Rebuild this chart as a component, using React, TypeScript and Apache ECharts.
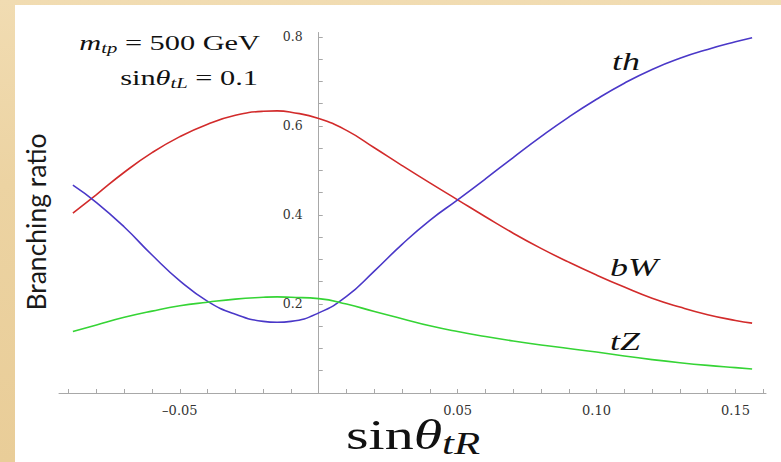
import React, { useEffect, useRef } from "react";
import * as echarts from "echarts";

// sinθ_tR sample positions
const xValues = [
  -0.0885, -0.08, -0.07, -0.06, -0.05, -0.04, -0.03, -0.02, -0.015, -0.01, 0, 0.01, 0.02, 0.03, 0.04, 0.05,
  0.06, 0.07, 0.08, 0.09, 0.1, 0.11, 0.12, 0.13, 0.14, 0.15, 0.156,
];
// Branching ratios
const bW = [
  0.404, 0.446, 0.496, 0.54, 0.576, 0.604, 0.624, 0.633, 0.634, 0.631, 0.617, 0.59, 0.551, 0.511, 0.472, 0.434,
  0.396, 0.359, 0.325, 0.294, 0.265, 0.238, 0.213, 0.193, 0.176, 0.163, 0.157,
];
const th = [
  0.467, 0.428, 0.373, 0.31, 0.252, 0.206, 0.177, 0.161, 0.159, 0.161, 0.18, 0.217, 0.274, 0.334, 0.388, 0.434,
  0.481, 0.529, 0.576, 0.62, 0.66, 0.696, 0.727, 0.752, 0.772, 0.789, 0.798,
];
const tZ = [
  0.138, 0.153, 0.17, 0.184, 0.196, 0.204, 0.211, 0.215, 0.216, 0.215, 0.212, 0.2, 0.183, 0.167, 0.151, 0.138,
  0.127, 0.117, 0.108, 0.1, 0.092, 0.083, 0.075, 0.068, 0.062, 0.057, 0.054,
];

const xTickValues = [
  -0.09, -0.08, -0.07, -0.06, -0.05, -0.04, -0.03, -0.02, -0.01, 0.01, 0.02, 0.03, 0.04, 0.05, 0.06, 0.07,
  0.08, 0.09, 0.1, 0.11, 0.12, 0.13, 0.14, 0.15, 0.16,
];
const xLabelValues = [-0.05, 0.05, 0.1, 0.15];
const yTickValues = [
  0.05, 0.1, 0.15, 0.2, 0.25, 0.3, 0.35, 0.4, 0.45, 0.5, 0.55, 0.6, 0.65, 0.7, 0.75, 0.8,
];
const yLabelValues = [0.2, 0.4, 0.6, 0.8];

const SERIF = "'Liberation Serif', 'DejaVu Serif', serif";
const TICKFONT = "'DejaVu Serif', serif";
const X_MIN = -0.0935;
const X_MAX = 0.161;
const GRID_LEFT = 44;
const GRID_RIGHT = 15;
const CHART_W = 766;
const STRETCH = 1.38;

export default function App() {
  const ref = useRef<HTMLDivElement>(null);

  useEffect(() => {
    if (!ref.current) return;
    const chart = echarts.init(ref.current, undefined, { renderer: "svg" });

    const mk = (vals: number[]) => xValues.map((x, i) => [x, vals[i]]);
    const lineSeries = (name: string, vals: number[], color: string) => ({
      name,
      type: "line",
      data: mk(vals),
      smooth: true,
      showSymbol: false,
      symbol: "none",
      lineStyle: { color, width: 1.6 },
      z: 3,
    });

    const plotW = CHART_W - GRID_LEFT - GRID_RIGHT;
    const zeroOffset = ((0 - X_MIN) / (X_MAX - X_MIN)) * plotW;

    const mathRich = (size: number, subSize: number, lh: number) => ({
      i: { fontFamily: SERIF, fontStyle: "italic", fontSize: size, lineHeight: lh },
      s: { fontFamily: SERIF, fontStyle: "italic", fontSize: subSize, lineHeight: subSize, verticalAlign: "bottom" },
      r: { fontFamily: SERIF, fontSize: size, lineHeight: lh },
    });

    chart.setOption({
      animation: false,
      backgroundColor: "#ffffff",
      grid: { left: GRID_LEFT, right: GRID_RIGHT, top: 27.5, bottom: 69 },
      xAxis: {
        type: "value",
        min: X_MIN,
        max: X_MAX,
        axisLine: { onZero: true, lineStyle: { color: "#a8a8a8", width: 1 } },
        axisTick: {
          show: true,
          inside: true,
          length: 4,
          customValues: xTickValues,
          lineStyle: { color: "#a8a8a8" },
        },
        axisLabel: {
          customValues: xLabelValues,
          margin: 11,
          fontFamily: TICKFONT,
          fontSize: 13,
          color: "#333",
          formatter: (v: number) => (v < 0 ? "\u2013" + Math.abs(v).toFixed(2) : v.toFixed(2)),
        },
        splitLine: { show: false },
      },
      yAxis: {
        type: "value",
        min: 0,
        max: 0.81,
        offset: -zeroOffset,
        axisLine: { show: true, onZero: false, lineStyle: { color: "#a8a8a8", width: 1 } },
        axisTick: {
          show: true,
          inside: true,
          length: 4,
          customValues: yTickValues,
          lineStyle: { color: "#a8a8a8" },
        },
        axisLabel: {
          customValues: yLabelValues,
          margin: 16,
          fontFamily: TICKFONT,
          fontSize: 12.5,
          color: "#333",
          formatter: (v: number) => v.toFixed(1),
        },
        splitLine: { show: false },
      },
      series: [
        lineSeries("bW", bW, "#d22b2b"),
        lineSeries("th", th, "#4a38c8"),
        lineSeries("tZ", tZ, "#35d435"),
      ],
      graphic: [
        {
          type: "text",
          x: 245,
          y: 38,
          scaleX: STRETCH,
          style: {
            text: "{i|m}{s|tp}{r| = 500 GeV}",
            align: "right",
            verticalAlign: "middle",
            fill: "#111",
            rich: mathRich(22, 15, 26),
          },
        },
        {
          type: "text",
          x: 243,
          y: 73,
          scaleX: STRETCH,
          style: {
            text: "{r|sin}{i|θ}{s|tL}{r| = 0.1}",
            align: "right",
            verticalAlign: "middle",
            fill: "#111",
            rich: mathRich(22, 15, 26),
          },
        },
        {
          type: "text",
          x: 597,
          y: 56,
          scaleX: STRETCH,
          style: { text: "th", font: `italic 26px ${SERIF}`, fill: "#111", verticalAlign: "middle" },
        },
        {
          type: "text",
          x: 595,
          y: 262,
          scaleX: STRETCH,
          style: { text: "bW", font: `italic 26px ${SERIF}`, fill: "#111", verticalAlign: "middle" },
        },
        {
          type: "text",
          x: 595,
          y: 336,
          scaleX: STRETCH,
          style: { text: "tZ", font: `italic 26px ${SERIF}`, fill: "#111", verticalAlign: "middle" },
        },
        {
          type: "text",
          x: 331,
          y: 430,
          scaleX: STRETCH,
          style: {
            text: "{r|sin}{i|θ}{s|tR}",
            align: "left",
            verticalAlign: "middle",
            fill: "#111",
            rich: mathRich(42, 31, 48),
          },
        },
        {
          type: "text",
          x: 21,
          y: 217,
          rotation: Math.PI / 2,
          style: {
            text: "Branching ratio",
            font: "26.5px Lato, 'Open Sans', sans-serif",
            fill: "#1a1a1a",
            align: "center",
            verticalAlign: "middle",
          },
        },
      ],
    });

    return () => chart.dispose();
  }, []);

  return (
    <div
      style={{
        position: "fixed",
        left: 0,
        top: 0,
        width: 781,
        height: 462,
        background: "linear-gradient(180deg, #f1dcb2 0%, #ecd3a2 40%, #e9cd98 100%)",
        overflow: "hidden",
      }}
    >
      <div ref={ref} style={{ position: "absolute", left: 15, top: 5, width: CHART_W, height: 457 }} />
    </div>
  );
}
